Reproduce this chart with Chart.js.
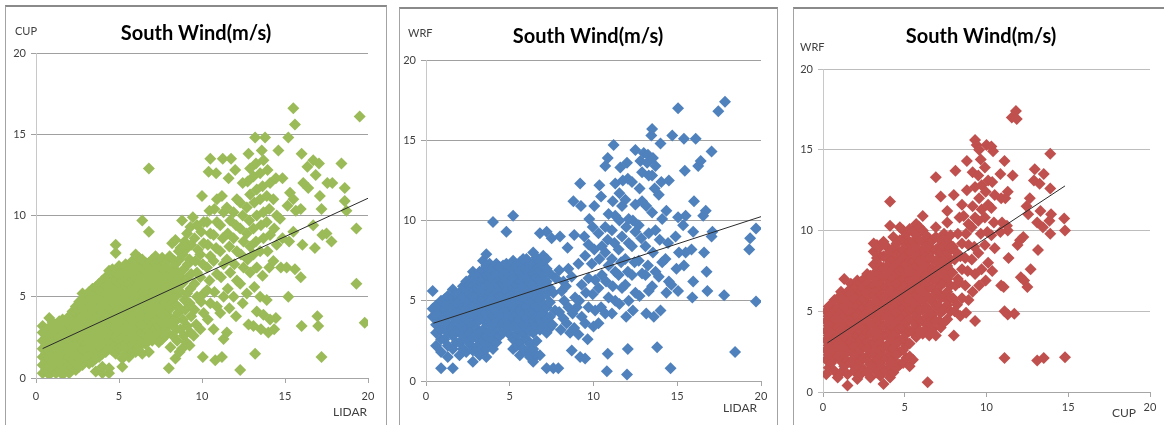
<!DOCTYPE html>
<html>
<head>
<meta charset="utf-8">
<script src="https://cdn.jsdelivr.net/npm/chart.js@4.4.1/dist/chart.umd.min.js"></script>
<style>
    body { margin: 0; width: 1164px; height: 425px; background: #fff; position: relative; overflow: hidden; }
    .box { position: absolute; box-sizing: border-box; border: 1px solid #a3a3a3; border-top: 2px solid #8a8a8a; border-bottom: none; }
    canvas { position: absolute; }
</style>
</head>
<body>
<div class="box" style="left:5px;top:5px;width:382px;height:430px"></div>
<div class="box" style="left:399px;top:7px;width:379px;height:430px"></div>
<div class="box" style="left:793px;top:7px;width:380px;height:430px"></div>
<canvas id="chart-1" width="379" height="418" style="left:6px;top:7px"></canvas>
<canvas id="chart-2" width="376" height="416" style="left:400px;top:9px"></canvas>
<canvas id="chart-3" width="370" height="416" style="left:794px;top:9px"></canvas>
<script>
// 三張散佈圖共用的文字與刻度
const panelTitles = ['South Wind(m/s)', 'South Wind(m/s)', 'South Wind(m/s)'];
const xNames = ['LIDAR', 'LIDAR', 'CUP'];
const yNames = ['CUP', 'WRF', 'WRF'];
const axisTicks = [0, 5, 10, 15, 20];

// 密集區: [x, [y...]] ，數值從圖上估讀
const lidarCupCols = [
    [0.4, [0.3, 0.8, 1.3, 1.8, 2.3, 2.8, 3.2]],
    [0.6, [0.5, 1.0, 1.5, 2.0, 2.5, 3.0]],
    [0.8, [0.2, 0.7, 1.2, 1.7, 2.2, 2.7, 3.1, 3.7]],
    [1.0, [0.5, 1.0, 1.5, 2.0, 2.5, 3.0, 3.4]],
    [1.2, [0.3, 0.8, 1.3, 1.8, 2.3, 2.8, 3.3]],
    [1.4, [0.5, 1.0, 1.5, 2.0, 2.5, 3.0, 3.5]],
    [1.6, [0.2, 0.7, 1.2, 1.7, 2.2, 2.7, 3.2, 3.6]],
    [1.8, [0.5, 1.0, 1.5, 2.0, 2.5, 3.0, 3.5]],
    [2.0, [0.3, 0.8, 1.3, 1.8, 2.3, 2.8, 3.3, 3.8]],
    [2.2, [0.6, 1.1, 1.6, 2.1, 2.6, 3.1, 3.6, 4.1]],
    [2.4, [0.5, 1.0, 1.5, 2.0, 2.5, 3.0, 3.5, 4.0, 4.4]],
    [2.6, [0.7, 1.2, 1.7, 2.2, 2.7, 3.2, 3.7, 4.2, 4.7]],
    [2.8, [0.8, 1.3, 1.8, 2.3, 2.8, 3.3, 3.8, 4.3, 4.8, 5.2]],
    [3.0, [1.1, 1.6, 2.1, 2.6, 3.1, 3.6, 4.1, 4.6, 5.1]],
    [3.2, [0.9, 1.4, 1.9, 2.4, 2.9, 3.4, 3.9, 4.4, 4.9, 5.3]],
    [3.4, [1.0, 1.5, 2.0, 2.5, 3.0, 3.5, 4.0, 4.5, 5.0, 5.5]],
    [3.6, [0.4, 1.2, 1.7, 2.2, 2.7, 3.2, 3.7, 4.2, 4.7, 5.2, 5.6]],
    [3.8, [1.3, 1.9, 2.4, 2.9, 3.4, 3.9, 4.4, 4.9, 5.4, 5.8]],
    [4.0, [0.3, 0.7, 1.5, 2.0, 2.5, 3.0, 3.5, 4.0, 4.5, 5.0, 5.5, 6.0]],
    [4.2, [1.6, 2.2, 2.7, 3.2, 3.7, 4.2, 4.7, 5.2, 5.7, 6.2]],
    [4.4, [0.3, 0.6, 1.8, 2.3, 2.8, 3.3, 3.8, 4.3, 4.8, 5.3, 5.8, 6.3, 6.6]],
    [4.6, [1.7, 2.2, 2.7, 3.2, 3.7, 4.2, 4.7, 5.2, 5.7, 6.2, 6.7]],
    [4.8, [1.5, 2.0, 2.5, 3.0, 3.5, 4.0, 4.5, 5.0, 5.5, 6.0, 6.5, 7.7, 8.2]],
    [5.0, [1.8, 2.3, 2.8, 3.3, 3.8, 4.3, 4.8, 5.3, 5.8, 6.3, 6.9]],
    [5.2, [0.7, 1.2, 2.0, 2.5, 3.0, 3.5, 4.0, 4.5, 5.0, 5.5, 6.0, 6.6]],
    [5.4, [1.5, 2.1, 2.6, 3.1, 3.6, 4.1, 4.6, 5.1, 5.6, 6.1, 6.6, 7.0]],
    [5.6, [1.3, 1.8, 2.3, 2.8, 3.3, 3.8, 4.3, 4.8, 5.3, 5.8, 6.3, 6.8]],
    [5.8, [1.6, 2.1, 2.6, 3.1, 3.6, 4.1, 4.6, 5.1, 5.6, 6.1, 6.6, 7.2]],
    [6.0, [1.6, 2.1, 2.6, 3.1, 3.6, 4.1, 4.6, 5.1, 5.6, 6.1, 6.6, 7.1, 7.6]],
    [6.2, [1.9, 2.4, 2.9, 3.4, 3.9, 4.4, 4.9, 5.4, 5.9, 6.4, 6.9, 7.4]],
    [6.4, [1.5, 2.3, 2.8, 3.3, 3.8, 4.3, 4.8, 5.3, 5.8, 6.3, 6.8, 7.3, 9.7]],
    [6.6, [2.1, 2.6, 3.1, 3.6, 4.1, 4.6, 5.1, 5.6, 6.1, 6.6, 7.1]],
    [6.8, [1.6, 2.6, 3.1, 3.6, 4.1, 4.6, 5.1, 5.6, 6.1, 6.6, 7.1, 9.0, 12.9]],
    [7.0, [2.3, 2.8, 3.3, 3.8, 4.3, 4.8, 5.3, 5.8, 6.3, 6.8, 7.3]],
    [7.2, [2.5, 3.0, 3.5, 4.0, 4.5, 5.0, 5.5, 6.0, 6.5, 7.0, 7.5]],
    [7.4, [2.2, 2.7, 3.2, 3.7, 4.2, 4.7, 5.2, 5.7, 6.2, 6.7, 7.2]],
    [7.6, [2.4, 2.9, 3.4, 3.9, 4.4, 4.9, 5.4, 5.9, 6.4, 6.9, 7.4]],
    [7.8, [2.6, 3.1, 3.6, 4.1, 4.6, 5.1, 5.6, 6.1, 6.6, 7.1]]
];

// 稀疏區: [x, y]
const lidarCupScatter = [
    [8.0, 0.6], [8.1, 1.9], [7.9, 2.8], [8.15, 3.3], [8.0, 3.8], [8.1, 4.3], [7.95, 4.8], [8.15, 5.3], [8.0, 5.8], [8.1, 6.3], [7.9, 6.8], [8.05, 7.5], [8.2, 8.3],
    [8.25, 2.6], [8.3, 3.6], [8.2, 4.6], [8.3, 5.6], [8.25, 6.6], [8.35, 7.2],
    [8.4, 1.2], [8.5, 2.3], [8.45, 3.0], [8.4, 3.5], [8.55, 4.0], [8.45, 4.5], [8.4, 5.0], [8.5, 5.5], [8.45, 6.0], [8.55, 6.5], [8.4, 7.0], [8.6, 7.8], [8.4, 8.5],
    [8.65, 1.6], [8.7, 3.0], [8.65, 4.3], [8.7, 5.3], [8.75, 6.2], [8.65, 7.3], [8.7, 8.0],
    [8.8, 1.8], [8.9, 2.6], [8.85, 3.6], [8.95, 4.8], [8.8, 5.8], [8.9, 6.7], [8.85, 7.6], [8.95, 8.4], [8.8, 9.7],
    [9.05, 2.2], [9.1, 3.2], [9.0, 4.2], [9.1, 5.2], [9.05, 6.1], [9.15, 7.0], [9.0, 7.9], [9.1, 8.9],
    [9.25, 2.0], [9.3, 2.8], [9.35, 3.8], [9.25, 4.6], [9.3, 5.5], [9.35, 6.4], [9.25, 7.3], [9.35, 8.2], [9.3, 9.3],
    [9.5, 2.6], [9.65, 3.3], [9.55, 4.2], [9.7, 5.0], [9.55, 5.8], [9.7, 6.5], [9.6, 7.2], [9.75, 7.9], [9.55, 8.6], [9.7, 9.4], [9.45, 9.9],
    [10.05, 1.3], [9.9, 3.0], [10.1, 4.0], [9.95, 4.7], [10.1, 5.2], [9.9, 6.2], [10.05, 7.0], [9.9, 7.6], [10.1, 8.3], [9.95, 9.0], [10.1, 9.6], [10.0, 11.2],
    [10.35, 3.6], [10.5, 4.6], [10.3, 5.4], [10.45, 6.0], [10.3, 6.8], [10.5, 7.5], [10.35, 8.2], [10.5, 8.9], [10.3, 9.6], [10.45, 10.3], [10.4, 12.7], [10.5, 13.5],
    [10.8, 1.1], [10.7, 3.0], [10.9, 4.4], [10.75, 5.3], [10.9, 6.4], [10.7, 7.2], [10.85, 8.0], [10.7, 8.8], [10.9, 9.6], [10.75, 10.4], [10.9, 11.0], [10.85, 12.6],
    [11.2, 1.3], [11.3, 2.4], [11.1, 4.0], [11.3, 5.0], [11.15, 6.2], [11.3, 7.0], [11.1, 7.8], [11.25, 8.6], [11.1, 9.4], [11.3, 10.2], [11.2, 11.2], [11.25, 13.5],
    [11.5, 2.8], [11.65, 4.3], [11.55, 5.5], [11.7, 6.5], [11.5, 7.3], [11.65, 8.1], [11.55, 8.9], [11.7, 9.7], [11.5, 10.5], [11.6, 12.3], [11.75, 13.5],
    [12.05, 3.8], [11.9, 5.0], [12.1, 6.0], [11.95, 7.0], [12.1, 7.8], [11.9, 8.6], [12.05, 9.4], [11.9, 10.2], [12.1, 11.0], [12.0, 12.8],
    [12.3, 0.5], [12.45, 4.6], [12.3, 5.8], [12.5, 6.8], [12.35, 7.6], [12.5, 8.4], [12.3, 9.2], [12.45, 10.0], [12.3, 10.8], [12.45, 12.0],
    [12.8, 3.3], [12.7, 5.2], [12.9, 6.5], [12.75, 7.3], [12.9, 8.1], [12.7, 8.9], [12.85, 9.7], [12.7, 10.5], [12.9, 11.3], [12.75, 12.1], [12.9, 12.9], [12.8, 13.8],
    [13.2, 1.5], [13.1, 3.2], [13.3, 4.1], [13.15, 5.6], [13.3, 6.8], [13.1, 7.6], [13.25, 8.4], [13.1, 9.2], [13.3, 10.0], [13.15, 10.8], [13.3, 11.6], [13.1, 12.4], [13.25, 13.2], [13.2, 14.8],
    [13.55, 3.0], [13.7, 3.9], [13.5, 5.0], [13.65, 6.3], [13.5, 7.8], [13.7, 8.6], [13.55, 9.4], [13.7, 10.2], [13.5, 11.0], [13.65, 11.8], [13.5, 12.6], [13.7, 13.4], [13.6, 14.0], [13.8, 14.8],
    [14.0, 2.8], [14.1, 3.6], [13.9, 4.8], [14.05, 6.8], [13.95, 7.8], [14.1, 8.8], [13.9, 9.6], [14.05, 10.4], [13.9, 11.2], [14.1, 12.0], [13.95, 12.8],
    [14.35, 3.0], [14.45, 3.7], [14.3, 7.2], [14.5, 8.2], [14.35, 9.2], [14.5, 10.0], [14.3, 11.0], [14.45, 12.3],
    [14.75, 6.8], [14.85, 8.6], [14.7, 9.8], [14.85, 12.3], [14.6, 14.0],
    [15.2, 5.0], [15.1, 6.8], [15.25, 8.4], [15.15, 10.6], [15.3, 11.4], [15.2, 14.8],
    [15.6, 6.7], [15.5, 9.0], [15.65, 10.3], [15.5, 11.0], [15.6, 15.6], [15.5, 16.6],
    [16.0, 3.2], [15.95, 6.2], [16.05, 8.2], [15.95, 10.4], [16.1, 12.0], [16.0, 13.8],
    [16.4, 11.7], [16.35, 13.0], [16.8, 8.0], [16.7, 9.4], [16.85, 12.5], [16.7, 13.4],
    [17.0, 3.2], [16.95, 3.8], [17.05, 13.2], [17.2, 1.3], [17.25, 8.8], [17.2, 10.4], [17.1, 11.2],
    [17.5, 8.9], [17.55, 12.0], [17.8, 8.4], [17.85, 12.0], [18.4, 13.2], [18.6, 10.9], [18.6, 11.7], [18.7, 10.3],
    [19.3, 5.8], [19.3, 9.2], [19.5, 16.1], [19.8, 3.4]
];

const lidarWrfCols = [
    [0.4, [4.0, 4.5, 5.6]],
    [0.6, [2.2, 3.0, 3.5, 4.1, 4.7]],
    [0.9, [0.8, 1.8, 2.6, 3.2, 3.8, 4.4, 5.0]],
    [1.1, [2.6, 3.3, 3.9, 4.5, 5.1]],
    [1.3, [1.5, 2.2, 3.0, 3.6, 4.2, 4.8, 5.3]],
    [1.6, [0.8, 2.0, 2.8, 3.4, 4.0, 4.6, 5.2, 5.7]],
    [1.8, [2.4, 3.1, 3.7, 4.3, 4.9, 5.4]],
    [2.0, [1.6, 2.4, 3.1, 3.7, 4.3, 4.9, 5.5]],
    [2.2, [2.0, 2.8, 3.4, 4.0, 4.6, 5.2, 5.9]],
    [2.4, [1.8, 2.6, 3.3, 3.9, 4.5, 5.1, 5.7, 6.2]],
    [2.6, [2.3, 3.0, 3.6, 4.2, 4.8, 5.4, 6.0]],
    [2.8, [1.2, 1.9, 2.7, 3.5, 4.1, 4.7, 5.3, 5.9, 6.5, 6.8]],
    [3.0, [2.0, 2.7, 3.3, 4.0, 4.6, 5.2, 5.8, 6.4]],
    [3.2, [1.6, 2.3, 3.0, 3.8, 4.4, 5.0, 5.6, 6.2, 6.8]],
    [3.4, [1.9, 2.5, 3.2, 3.9, 4.5, 5.1, 5.7, 6.3, 6.9, 7.5]],
    [3.6, [1.5, 2.0, 2.8, 3.6, 4.2, 4.8, 5.4, 6.0, 6.6, 7.2, 7.9]],
    [3.8, [2.3, 3.1, 3.7, 4.3, 4.9, 5.5, 6.1, 6.7, 7.3]],
    [4.0, [2.0, 2.6, 3.4, 4.0, 4.6, 5.2, 5.8, 6.4, 7.0, 9.9]],
    [4.2, [2.4, 3.0, 3.7, 4.3, 4.9, 5.5, 6.1, 6.7, 7.3]],
    [4.4, [2.8, 3.5, 4.1, 4.7, 5.3, 5.9, 6.5, 7.1]],
    [4.6, [3.0, 3.6, 4.2, 4.8, 5.4, 6.0, 6.6, 7.2]],
    [4.8, [3.2, 3.8, 4.4, 5.0, 5.6, 6.2, 6.8, 7.3, 9.3]],
    [5.0, [2.9, 3.5, 4.1, 4.7, 5.3, 5.9, 6.5, 7.1]],
    [5.2, [2.0, 2.6, 3.4, 4.0, 4.6, 5.2, 5.8, 6.4, 7.0, 7.5, 10.3]],
    [5.4, [2.2, 2.9, 3.6, 4.2, 4.8, 5.4, 6.0, 6.6, 7.2]],
    [5.6, [1.6, 2.4, 3.2, 3.8, 4.4, 5.0, 5.6, 6.2, 6.8, 7.4]],
    [5.8, [2.0, 2.9, 3.5, 4.1, 4.7, 5.3, 5.9, 6.5, 7.1, 7.6]],
    [6.0, [1.8, 2.6, 3.4, 4.0, 4.6, 5.2, 5.8, 6.4, 7.0, 7.6]],
    [6.2, [1.5, 2.3, 3.1, 3.7, 4.3, 4.9, 5.5, 6.1, 6.7, 7.3]],
    [6.4, [1.2, 2.0, 3.0, 3.7, 4.3, 4.9, 5.5, 6.1, 6.7, 7.3, 8.0]],
    [6.6, [1.6, 2.5, 3.4, 4.0, 4.6, 5.2, 5.8, 6.4, 7.0, 7.7]],
    [6.8, [1.6, 3.2, 3.9, 4.5, 5.1, 5.7, 6.3, 6.9, 7.5, 9.2]],
    [7.0, [3.5, 4.2, 4.8, 5.4, 6.0, 6.6, 7.2, 7.8]],
    [7.2, [0.8, 3.0, 3.8, 4.6, 5.4, 6.2, 7.0, 7.6, 9.3]],
    [7.4, [3.3, 4.0, 4.9, 5.8, 6.7]]
];

const lidarWrfScatter = [
    [7.6, 0.8], [7.55, 3.5], [7.7, 4.4], [7.6, 5.5], [7.75, 6.4], [7.5, 8.9],
    [7.9, 0.8], [8.05, 3.2], [7.95, 4.3], [8.1, 5.6], [7.95, 6.9], [8.0, 9.0], [8.2, 3.9], [8.25, 5.0], [8.2, 6.2],
    [8.4, 3.6], [8.5, 4.6], [8.35, 5.9], [8.5, 7.0], [8.45, 8.3], [8.6, 3.0],
    [8.7, 1.9], [8.85, 3.3], [8.75, 4.2], [8.9, 5.2], [8.7, 6.5], [8.85, 9.1], [8.8, 11.2], [9.0, 4.6],
    [9.2, 1.5], [9.1, 2.9], [9.3, 4.0], [9.15, 5.0], [9.3, 6.0], [9.1, 7.3], [9.25, 10.9], [9.2, 12.3],
    [9.5, 1.4], [9.65, 2.6], [9.5, 3.6], [9.7, 4.6], [9.55, 5.5], [9.7, 6.4], [9.5, 7.8], [9.7, 8.5], [9.45, 9.0], [9.75, 10.1],
    [10.0, 3.4], [10.1, 4.4], [9.95, 5.4], [10.1, 6.3], [9.9, 7.3], [10.05, 8.2], [9.95, 9.6], [10.05, 10.9],
    [10.3, 3.6], [10.45, 4.6], [10.3, 5.8], [10.5, 6.6], [10.35, 7.6], [10.5, 8.4], [10.3, 9.2], [10.45, 11.5], [10.35, 12.2],
    [10.8, 0.6], [10.85, 1.7], [10.7, 4.2], [10.9, 5.2], [10.75, 6.2], [10.9, 7.2], [10.7, 8.0], [10.85, 8.8], [10.7, 9.6], [10.9, 10.4], [10.7, 13.4], [10.85, 13.9],
    [11.1, 4.2], [11.3, 5.0], [11.15, 5.9], [11.3, 6.8], [11.1, 7.6], [11.25, 8.6], [11.1, 9.4], [11.3, 10.3], [11.15, 11.2], [11.3, 12.3], [11.2, 14.7],
    [11.55, 4.8], [11.7, 5.8], [11.5, 6.6], [11.65, 7.4], [11.5, 8.2], [11.7, 9.0], [11.55, 10.0], [11.7, 10.9], [11.55, 11.7], [11.75, 12.5], [11.6, 13.3],
    [12.0, 0.4], [12.05, 2.0], [11.95, 4.0], [12.1, 5.0], [11.9, 6.0], [12.05, 6.8], [11.9, 7.6], [12.1, 8.6], [11.95, 9.6], [12.1, 10.1], [11.9, 11.3], [12.05, 12.6], [12.0, 13.6],
    [12.35, 4.4], [12.5, 5.5], [12.3, 6.6], [12.45, 7.4], [12.3, 8.4], [12.5, 9.3], [12.35, 10.0], [12.5, 11.0], [12.3, 12.4], [12.5, 14.4],
    [12.75, 5.3], [12.9, 6.7], [12.7, 7.5], [12.85, 8.9], [12.7, 9.7], [12.9, 11.2], [12.75, 12.0], [12.9, 13.0], [12.8, 13.7], [13.0, 14.2],
    [13.15, 4.2], [13.3, 5.6], [13.1, 6.6], [13.25, 7.2], [13.1, 8.4], [13.3, 9.2], [13.15, 10.9], [13.3, 12.8], [13.2, 13.6], [13.25, 14.1],
    [13.8, 2.1], [13.6, 4.0], [13.5, 5.9], [13.7, 6.8], [13.55, 8.0], [13.7, 9.4], [13.5, 10.5], [13.65, 12.0], [13.5, 12.8], [13.7, 13.4], [13.55, 13.9], [13.45, 15.3], [13.5, 15.7],
    [14.0, 4.4], [13.9, 6.5], [14.1, 7.4], [13.95, 8.8], [14.1, 10.1], [13.9, 11.6], [14.05, 12.4], [14.0, 14.8],
    [14.35, 5.5], [14.5, 6.2], [14.3, 7.6], [14.45, 8.6], [14.35, 10.6], [14.5, 12.5],
    [14.6, 0.8], [14.65, 6.0], [14.7, 15.3],
    [15.05, 5.6], [14.95, 7.0], [15.1, 8.0], [14.9, 9.0], [15.05, 10.2], [15.05, 17.0],
    [15.4, 7.2], [15.5, 8.0], [15.35, 9.7], [15.5, 10.3], [15.45, 13.1], [15.4, 15.1],
    [15.9, 5.2], [15.95, 6.2], [15.85, 8.2], [15.95, 9.3], [16.0, 11.2], [16.1, 15.1],
    [16.25, 13.4], [16.4, 13.7], [16.6, 8.0], [16.55, 10.3], [16.7, 10.6], [16.8, 5.6], [16.75, 6.8],
    [17.05, 9.0], [17.1, 9.3], [17.05, 14.3], [17.45, 16.8], [17.8, 5.35], [17.85, 17.4],
    [18.45, 1.8], [19.3, 8.2], [19.35, 8.9], [19.7, 4.95], [19.7, 9.5]
];

const cupWrfCols = [
    [0.2, [1.1, 2.0, 2.6, 3.2, 3.8, 4.4, 5.0]],
    [0.35, [1.5, 2.3, 2.9, 3.5, 4.1, 4.7, 5.3]],
    [0.5, [1.8, 2.4, 3.0, 3.6, 4.2, 4.8, 5.4]],
    [0.7, [1.3, 2.1, 2.7, 3.3, 3.9, 4.5, 5.1, 5.7]],
    [0.9, [0.9, 2.2, 2.8, 3.4, 4.0, 4.6, 5.2, 5.8]],
    [1.1, [1.2, 1.9, 2.6, 3.2, 3.8, 4.4, 5.0, 5.6, 6.2]],
    [1.3, [1.6, 2.3, 2.9, 3.5, 4.1, 4.7, 5.3, 5.9, 7.0]],
    [1.5, [0.4, 1.1, 1.9, 2.6, 3.2, 3.8, 4.4, 5.0, 5.6, 6.2]],
    [1.7, [1.8, 2.5, 3.1, 3.7, 4.3, 4.9, 5.5, 6.1, 6.7]],
    [1.9, [1.3, 2.1, 2.8, 3.4, 4.0, 4.6, 5.2, 5.8, 6.4]],
    [2.1, [0.8, 1.6, 2.3, 2.9, 3.5, 4.1, 4.7, 5.3, 5.9, 6.5, 6.9]],
    [2.3, [1.1, 1.9, 2.6, 3.2, 3.8, 4.4, 5.0, 5.6, 6.2, 6.8]],
    [2.5, [1.4, 2.1, 2.8, 3.4, 4.0, 4.6, 5.2, 5.8, 6.4, 7.0]],
    [2.7, [1.2, 2.0, 2.7, 3.1, 3.7, 4.3, 4.9, 5.5, 6.1, 6.7, 7.3]],
    [2.9, [0.9, 1.7, 2.4, 3.0, 3.6, 4.2, 4.8, 5.4, 6.0, 6.6, 7.2]],
    [3.1, [1.5, 2.3, 3.0, 3.6, 4.2, 4.8, 5.4, 6.0, 6.6, 7.2, 7.9, 8.7, 9.2]],
    [3.3, [1.2, 2.0, 2.7, 3.3, 3.9, 4.5, 5.1, 5.7, 6.3, 6.9, 7.5, 8.3, 9.1]],
    [3.5, [1.0, 1.8, 2.5, 3.0, 3.6, 4.2, 4.8, 5.4, 6.0, 6.6, 7.2, 7.8, 8.4, 9.0]],
    [3.7, [0.5, 1.4, 2.1, 2.8, 3.5, 4.1, 4.7, 5.3, 5.9, 6.5, 7.1, 7.7, 8.4, 9.3]],
    [3.9, [1.3, 2.1, 2.8, 3.5, 4.1, 4.7, 5.3, 5.9, 6.5, 7.1, 7.7, 8.3, 9.0]],
    [4.1, [0.9, 1.7, 2.4, 3.1, 3.8, 4.4, 5.0, 5.6, 6.2, 6.8, 7.4, 8.0, 8.7, 10.3, 11.8]],
    [4.3, [1.2, 2.0, 2.7, 3.4, 4.0, 4.6, 5.2, 5.8, 6.4, 7.0, 7.6, 8.2, 8.9, 9.6]],
    [4.5, [1.5, 2.3, 3.0, 3.7, 4.3, 4.9, 5.5, 6.1, 6.7, 7.3, 7.9, 8.5, 9.2]],
    [4.7, [1.7, 2.5, 3.2, 3.9, 4.5, 5.1, 5.7, 6.3, 6.9, 7.5, 8.1, 8.7, 9.4, 10.2]],
    [4.9, [1.8, 2.6, 3.3, 4.0, 4.6, 5.2, 5.8, 6.4, 7.0, 7.6, 8.2, 8.8, 9.5, 10.0]],
    [5.1, [2.1, 2.9, 3.6, 4.3, 4.9, 5.5, 6.1, 6.7, 7.3, 7.9, 8.5, 9.1, 9.8]],
    [5.3, [1.6, 2.2, 3.0, 3.8, 4.5, 5.1, 5.7, 6.3, 6.9, 7.5, 8.1, 8.7, 9.3, 10.1]],
    [5.5, [2.0, 3.7, 4.4, 5.1, 5.7, 6.3, 6.9, 7.5, 8.1, 8.7, 9.3, 10.0]],
    [5.7, [3.4, 4.1, 4.8, 5.4, 6.0, 6.6, 7.2, 7.8, 8.4, 9.0, 9.7, 10.4]],
    [5.9, [3.8, 4.5, 5.1, 5.7, 6.3, 6.9, 7.5, 8.1, 8.7, 9.4, 10.2]],
    [6.1, [3.6, 4.4, 5.1, 5.7, 6.3, 6.9, 7.5, 8.1, 8.7, 9.3, 10.0, 10.9]],
    [6.3, [3.9, 4.6, 5.3, 6.0, 6.6, 7.2, 7.8, 8.4, 9.0, 9.7]],
    [6.4, [0.6]],
    [6.5, [3.5, 4.3, 5.0, 5.8, 6.5, 7.1, 7.7, 8.3, 8.9, 9.5]],
    [6.7, [3.9, 4.8, 5.6, 6.4, 7.0, 7.6, 8.2, 8.8, 9.4]],
    [6.9, [3.5, 4.4, 5.3, 6.1, 6.9, 7.5, 8.1, 8.8, 9.6, 10.2, 13.3]],
    [7.1, [4.4, 5.3, 6.1, 6.9, 7.6, 8.3, 9.0]],
    [7.2, [4.0, 4.9, 5.8, 6.6, 7.3, 8.0, 8.7, 9.4, 12.1]],
    [7.4, [4.3, 5.1, 5.9, 6.8, 7.5, 8.2, 9.0, 9.8]],
    [7.6, [4.5, 5.4, 6.2, 7.0, 7.8, 8.6, 9.3, 10.5, 11.2]],
    [7.8, [5.0, 5.8, 6.6, 7.4, 8.2, 8.9, 9.7]]
];

const cupWrfScatter = [
    [8.0, 3.5], [8.05, 5.0], [7.95, 5.8], [8.1, 6.6], [7.9, 7.4], [8.05, 8.2], [7.95, 9.0], [8.0, 12.2], [8.1, 13.7],
    [8.2, 5.4], [8.25, 7.0], [8.2, 8.6], [8.25, 9.8],
    [8.4, 4.7], [8.5, 5.8], [8.35, 6.8], [8.5, 7.6], [8.4, 8.4], [8.5, 9.2], [8.35, 10.8], [8.5, 11.6],
    [8.75, 4.9], [8.9, 5.7], [8.7, 6.6], [8.85, 7.5], [8.7, 8.3], [8.9, 9.1], [8.75, 9.8], [8.9, 10.4], [8.6, 10.9], [8.8, 12.5], [8.8, 14.3],
    [9.3, 4.4], [9.15, 6.2], [9.3, 7.3], [9.1, 8.2], [9.25, 9.0], [9.1, 10.2], [9.3, 10.8], [9.15, 11.5], [9.3, 12.7], [9.15, 13.6], [9.4, 15.3], [9.3, 15.6],
    [9.55, 6.6], [9.7, 7.6], [9.5, 8.6], [9.65, 9.8], [9.5, 10.6], [9.7, 11.3], [9.55, 12.0], [9.7, 12.8], [9.5, 13.4], [9.65, 14.4], [9.55, 15.0],
    [9.95, 6.9], [10.1, 8.0], [9.9, 9.1], [10.05, 9.9], [9.9, 10.8], [10.1, 11.6], [9.95, 12.4], [10.1, 13.1], [9.9, 13.9], [10.0, 15.3],
    [10.35, 7.5], [10.5, 8.9], [10.3, 9.7], [10.45, 10.5], [10.3, 11.4], [10.5, 12.2], [10.35, 13.0], [10.4, 14.9], [10.3, 15.2],
    [10.9, 6.6], [10.85, 9.9], [10.95, 10.5], [10.9, 12.0], [10.85, 13.5],
    [11.1, 2.1], [11.1, 5.0], [11.05, 6.5], [11.15, 12.0], [11.1, 14.3],
    [11.3, 4.8], [11.35, 8.3], [11.3, 10.0], [11.25, 10.3], [11.3, 12.4],
    [11.6, 13.4], [11.55, 17.0], [11.7, 4.85], [11.8, 17.4], [11.9, 9.1], [11.85, 16.9],
    [12.1, 7.1], [12.05, 9.4], [12.3, 6.9], [12.25, 9.6], [12.5, 6.5], [12.55, 11.0], [12.45, 11.5],
    [12.7, 7.6], [12.65, 12.0], [12.9, 13.1], [12.95, 13.8], [13.1, 1.95], [13.15, 8.8], [13.1, 10.5],
    [13.3, 11.2], [13.25, 12.9], [13.5, 2.1], [13.45, 10.2], [13.5, 13.5],
    [13.9, 9.8], [13.85, 10.6], [13.95, 11.0], [13.9, 12.6], [13.9, 14.75],
    [14.8, 2.15], [14.8, 10.0], [14.75, 10.75]
];

// 趨勢線兩端點
const lidarCupTrend = [[0.4, 1.81], [20, 11.06]];
const lidarWrfTrend = [[0.44, 3.6], [20, 10.24]];
const cupWrfTrend = [[0.27, 3.04], [14.8, 12.76]];

const seriesColors = ['#9bbb59', '#4f81bd', '#c0504d'];

Chart.defaults.font.family = 'Lato, "Open Sans", sans-serif';

function toPoints(cols, pairs) {
    const pts = [];
    cols.forEach(([x, ys]) => ys.forEach(y => pts.push({ x, y })));
    pairs.forEach(([x, y]) => pts.push({ x, y }));
    return pts;
}

const panelText = {
    id: 'panelText',
    afterDraw(chart, args, opts) {
        const ctx = chart.ctx;
        ctx.save();
        ctx.fillStyle = '#000';
        ctx.font = 'bold 20px Lato';
        ctx.textAlign = 'center';
        ctx.textBaseline = 'middle';
        ctx.fillText(opts.title, opts.titlePos[0], opts.titlePos[1]);
        ctx.fillStyle = '#404040';
        ctx.textAlign = 'left';
        ctx.font = '11px Lato';
        ctx.fillText(opts.yName, opts.yNamePos[0], opts.yNamePos[1]);
        ctx.font = '12px Lato';
        ctx.fillText(opts.xName, opts.xNamePos[0], opts.xNamePos[1]);
        ctx.restore();
    }
};

function renderPanel(id, idx, points, trend, geo) {
    const ctx = document.getElementById(id);
    return new Chart(ctx, {
        type: 'scatter',
        data: {
            datasets: [{
                data: trend.map(([x, y]) => ({ x, y })),
                showLine: true,
                borderColor: '#2b2b2b',
                borderWidth: 1,
                pointRadius: 0
            }, {
                data: points,
                pointStyle: 'rectRot',
                pointRadius: 6,
                pointBorderWidth: 0,
                backgroundColor: seriesColors[idx],
                borderColor: seriesColors[idx]
            }]
        },
        options: {
            responsive: false,
            animation: false,
            events: [],
            layout: { padding: { left: 0, top: geo.top, right: geo.right, bottom: 0 } },
            plugins: {
                legend: { display: false },
                tooltip: { enabled: false },
                panelText: {
                    title: panelTitles[idx],
                    xName: xNames[idx],
                    yName: yNames[idx],
                    titlePos: geo.titlePos,
                    xNamePos: geo.xNamePos,
                    yNamePos: geo.yNamePos
                }
            },
            scales: {
                x: {
                    type: 'linear',
                    min: 0,
                    max: 20,
                    afterBuildTicks: s => { s.ticks = axisTicks.map(v => ({ value: v })); },
                    afterFit: s => { s.height = geo.xh; },
                    ticks: { color: '#404040', font: { size: 11 }, padding: geo.xPad, maxRotation: 0 },
                    grid: { drawOnChartArea: false, tickLength: 5, color: '#a6a6a6' },
                    border: { color: '#a6a6a6' }
                },
                y: {
                    type: 'linear',
                    min: 0,
                    max: 20,
                    afterBuildTicks: s => { s.ticks = axisTicks.map(v => ({ value: v })); },
                    afterFit: s => { s.width = geo.yw; },
                    ticks: { color: '#404040', font: { size: 11 }, padding: 5 },
                    grid: { tickLength: 5, color: geo.gridColor },
                    border: { color: '#c8c8c8' }
                }
            }
        },
        plugins: [panelText]
    });
}

renderPanel('chart-1', 0, toPoints(lidarCupCols, lidarCupScatter), lidarCupTrend, {
    top: 46, right: 17, yw: 30, xh: 47, xPad: 7, gridColor: '#a0a0a0',
    titlePos: [190, 27], yNamePos: [9, 24], xNamePos: [327, 405]
});
renderPanel('chart-2', 1, toPoints(lidarWrfCols, lidarWrfScatter), lidarWrfTrend, {
    top: 51, right: 15, yw: 26, xh: 44, xPad: 4, gridColor: '#a0a0a0',
    titlePos: [188, 28], yNamePos: [8, 24], xNamePos: [323, 399]
});
renderPanel('chart-3', 2, toPoints(cupWrfCols, cupWrfScatter), cupWrfTrend, {
    top: 60, right: 14, yw: 29, xh: 33, xPad: 4, gridColor: '#bdbdbd',
    titlePos: [187, 28], yNamePos: [6, 38], xNamePos: [318, 404]
});
</script>
</body>
</html>
